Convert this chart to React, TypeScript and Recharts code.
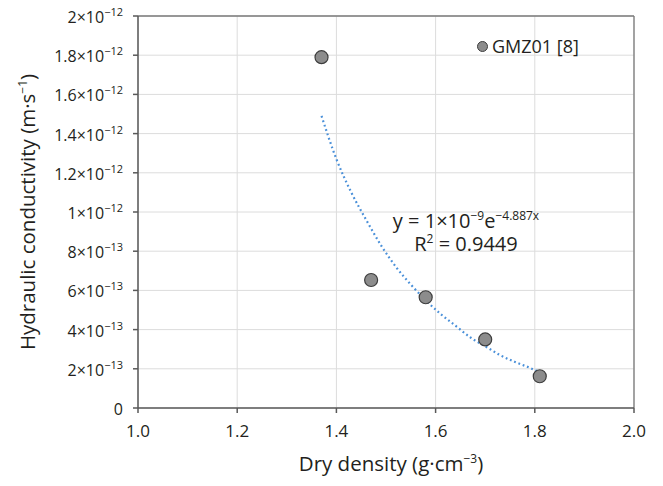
import React from 'react';
import { ComposedChart, Scatter, Line, XAxis, YAxis, CartesianGrid, ReferenceLine } from 'recharts';

// measured points (dry density g/cm3, hydraulic conductivity m/s)
const densities = [1.37, 1.47, 1.58, 1.7, 1.81];
const conductivities = [1.79e-12, 6.53e-13, 5.65e-13, 3.5e-13, 1.62e-13];

// exponential trend line
const trendDensities = [1.37, 1.4, 1.43, 1.46, 1.49, 1.52, 1.55, 1.58, 1.61, 1.64, 1.67, 1.7, 1.73, 1.76, 1.79, 1.81];
const trendValues = [
  1.49e-12, 1.27e-12, 1.1e-12, 9.6e-13, 8.3e-13, 7.2e-13, 6.3e-13, 5.5e-13,
  4.8e-13, 4.2e-13, 3.6e-13, 3.15e-13, 2.7e-13, 2.35e-13, 2.05e-13, 1.82e-13,
];

const xTicks = [1.0, 1.2, 1.4, 1.6, 1.8, 2.0];
const yTicks = [0, 2e-13, 4e-13, 6e-13, 8e-13, 1e-12, 1.2e-12, 1.4e-12, 1.6e-12, 1.8e-12, 2e-12];
const yTickMantissas = ['0', '2', '4', '6', '8', '1', '1.2', '1.4', '1.6', '1.8', '2'];
const yTickExponents = ['', '−13', '−13', '−13', '−13', '−12', '−12', '−12', '−12', '−12', '−12'];

const points = densities.map((x, i) => ({ x, y: conductivities[i] }));
const trend = trendDensities.map((x, i) => ({ x, y: trendValues[i] }));

const FONT = '"Open Sans", sans-serif';
const TEXT = '#231f20';
const AXIS = '#595959';
const sup = { fontSize: 12, lineHeight: 0 } as const;

const XTick = (props: any) => {
  const { x, y, payload } = props;
  return (
    <text x={x} y={y} dy={22} textAnchor="middle" fontSize={17} fill={TEXT} fontFamily={FONT}>
      {payload.value.toFixed(1)}
    </text>
  );
};

const YTick = (props: any) => {
  const { x, y, payload } = props;
  const idx = yTicks.findIndex((t) => Math.abs(t - payload.value) < 1e-16);
  const exp = yTickExponents[idx];
  return (
    <text x={x - 8} y={y} dy={7} textAnchor="end" fontSize={16} fill={TEXT} fontFamily={FONT}>
      {exp ? (
        <>
          <tspan>{yTickMantissas[idx]}×10</tspan>
          <tspan fontSize={11} dy={-7}>{exp}</tspan>
        </>
      ) : (
        yTickMantissas[idx]
      )}
    </text>
  );
};

const Dot = (props: any) => (
  <circle cx={props.cx} cy={props.cy} r={6.5} fill="#8c8c8c" stroke="#3d3d3d" strokeWidth={1.2} />
);

export default function App() {
  return (
    <div style={{ position: 'absolute', left: 0, top: 0, width: 663, height: 486, background: '#fff', fontFamily: FONT, color: TEXT }}>
      <ComposedChart width={663} height={486} margin={{ top: 16, right: 29, bottom: 48, left: 0 }}>
        <CartesianGrid stroke="#dcdcdc" strokeWidth={1} />
        <XAxis
          type="number"
          dataKey="x"
          domain={[1, 2]}
          ticks={xTicks}
          allowDataOverflow
          tick={<XTick />}
          tickSize={5}
          height={30}
          axisLine={{ stroke: AXIS, strokeWidth: 1.5 }}
          tickLine={{ stroke: AXIS, strokeWidth: 1.5 }}
        />
        <YAxis
          type="number"
          dataKey="y"
          domain={[0, 2e-12]}
          ticks={yTicks}
          allowDataOverflow
          width={138}
          tick={<YTick />}
          tickSize={5}
          axisLine={{ stroke: AXIS, strokeWidth: 1.5 }}
          tickLine={{ stroke: AXIS, strokeWidth: 1.5 }}
        />
        <ReferenceLine y={2e-12} stroke="#7a7a7a" strokeWidth={1.3} />
        <ReferenceLine x={2} stroke="#7a7a7a" strokeWidth={1.3} />
        <Line
          data={trend}
          dataKey="y"
          type="monotone"
          stroke="#4a90d9"
          strokeWidth={2.2}
          strokeDasharray="1.8 2.8"
          dot={false}
          activeDot={false}
          isAnimationActive={false}
        />
        <Scatter data={points} dataKey="y" shape={<Dot />} isAnimationActive={false} />
      </ComposedChart>

      <div
        style={{
          position: 'absolute', left: 27, top: 212, transform: 'translate(-50%, -50%) rotate(-90deg)',
          whiteSpace: 'nowrap', fontSize: 20.5,
        }}
      >
        Hydraulic conductivity (m·s<sup style={sup}>−1</sup>)
      </div>
      <div
        style={{
          position: 'absolute', left: 391, top: 463, transform: 'translate(-50%, -50%)',
          whiteSpace: 'nowrap', fontSize: 20.5,
        }}
      >
        Dry density (g·cm<sup style={sup}>−3</sup>)
      </div>

      <div
        style={{
          position: 'absolute', left: 466, top: 232, transform: 'translate(-50%, -50%)',
          whiteSpace: 'nowrap', fontSize: 20, lineHeight: '23px', textAlign: 'center',
        }}
      >
        <div>
          y = 1×10<sup style={sup}>−9</sup>e<sup style={sup}>−4.887x</sup>
        </div>
        <div>
          R<sup style={sup}>2</sup> = 0.9449
        </div>
      </div>

      <div style={{ position: 'absolute', left: 476, top: 34, display: 'flex', alignItems: 'center', fontSize: 18, whiteSpace: 'nowrap' }}>
        <svg width={13} height={13} style={{ marginRight: 3 }}>
          <circle cx={6.5} cy={6.5} r={5} fill="#8c8c8c" stroke="#3d3d3d" strokeWidth={1} />
        </svg>
        GMZ01 [8]
      </div>
    </div>
  );
}
